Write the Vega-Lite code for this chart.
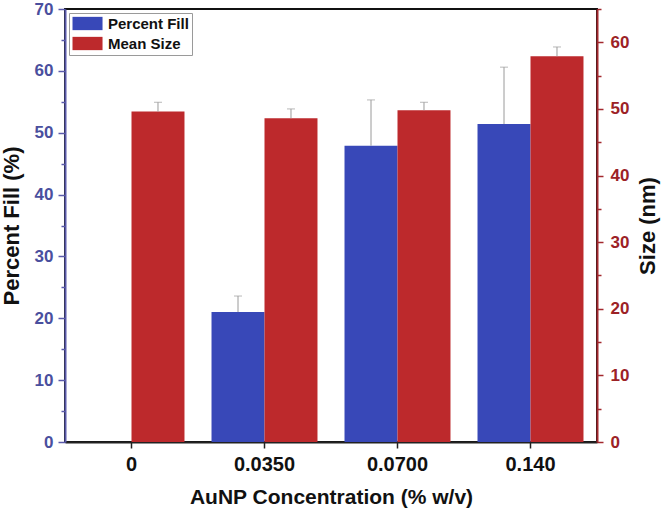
{
  "$schema": "https://vega.github.io/schema/vega-lite/v6.json",
  "width": 532,
  "height": 433,
  "autosize": {"type": "none"},
  "padding": {"left": 65, "top": 9, "right": 64, "bottom": 72},
  "background": "white",
  "config": {
    "font": "Liberation Sans",
    "view": {"stroke": "#111111", "strokeWidth": 2},
    "axis": {
      "labelFont": "Liberation Sans",
      "titleFont": "Liberation Sans",
      "labelFontWeight": "bold",
      "titleFontWeight": "bold",
      "titleColor": "#111111",
      "grid": false
    }
  },
  "data": {
    "values": [
      {"conc": "0", "series": "Percent Fill", "value": 0, "upper": null},
      {"conc": "0.0350", "series": "Percent Fill", "value": 21.0, "upper": 23.6},
      {"conc": "0.0700", "series": "Percent Fill", "value": 47.9, "upper": 55.3},
      {"conc": "0.140", "series": "Percent Fill", "value": 51.4, "upper": 60.6},
      {"conc": "0", "series": "Mean Size", "value": 49.6, "upper": 51.0},
      {"conc": "0.0350", "series": "Mean Size", "value": 48.6, "upper": 50.0},
      {"conc": "0.0700", "series": "Mean Size", "value": 49.8, "upper": 51.0},
      {"conc": "0.140", "series": "Mean Size", "value": 57.9, "upper": 59.3}
    ]
  },
  "encoding": {
    "x": {
      "field": "conc",
      "type": "nominal",
      "sort": ["0", "0.0350", "0.0700", "0.140"],
      "scale": {"paddingInner": 0, "paddingOuter": 0},
      "axis": {
        "title": "AuNP Concentration (% w/v)",
        "labelAngle": 0,
        "labelFontSize": 20,
        "labelColor": "#111111",
        "labelPadding": 6,
        "titleFontSize": 21,
        "titlePadding": 12,
        "domainColor": "#222222",
        "domainWidth": 2,
        "tickColor": "#222222",
        "tickWidth": 1.5,
        "tickSize": 6
      }
    },
    "xOffset": {
      "field": "series",
      "type": "nominal",
      "sort": ["Percent Fill", "Mean Size"],
      "scale": {"domain": ["Percent Fill", "Mean Size"], "paddingInner": 0, "paddingOuter": 0.255}
    }
  },
  "layer": [
    {
      "transform": [{"filter": "datum.series === 'Percent Fill'"}],
      "encoding": {
        "y": {
          "field": "value",
          "type": "quantitative",
          "scale": {"domain": [0, 70], "nice": false},
          "axis": {
            "orient": "left",
            "title": "Percent Fill (%)",
            "values": [0, 5, 10, 15, 20, 25, 30, 35, 40, 45, 50, 55, 60, 65, 70],
            "labelExpr": "datum.value % 10 === 0 ? datum.label : ''",
            "tickSize": {"condition": {"test": "datum.value % 10 === 0", "value": 7}, "value": 4},
            "labelFontSize": 17,
            "labelColor": "#4a4f9e",
            "labelPadding": 5,
            "titleFontSize": 22,
            "titlePadding": 11,
            "domainColor": "#5a5aaa",
            "domainWidth": 2,
            "tickColor": "#5a5aaa",
            "tickWidth": 1.5
          }
        }
      },
      "layer": [
        {
          "mark": {"type": "bar"},
          "encoding": {
            "color": {
              "field": "series",
              "type": "nominal",
              "scale": {"domain": ["Percent Fill", "Mean Size"], "range": ["#3848b8", "#bd292c"]},
              "legend": {
                "title": null,
                "orient": "top-left",
                "offset": 4,
                "padding": 3,
                "strokeColor": "#9a9a9a",
                "fillColor": "white",
                "symbolType": "M-1,-0.95H3.29V0.95H-1Z",
                "symbolSize": 196,
                "symbolStrokeWidth": 0,
                "symbolOpacity": 1,
                "labelFont": "Liberation Sans",
                "labelFontSize": 15,
                "labelFontWeight": "bold",
                "labelColor": "#111111",
                "labelOffset": 21,
                "rowPadding": 4
              }
            }
          }
        },
        {
          "transform": [{"filter": "datum.upper != null"}],
          "mark": {"type": "rule", "color": "#9a9a9a", "strokeWidth": 1},
          "encoding": {"y2": {"field": "upper"}}
        },
        {
          "transform": [{"filter": "datum.upper != null"}],
          "mark": {"type": "tick", "color": "#9a9a9a", "thickness": 1, "size": 8},
          "encoding": {"y": {"field": "upper", "type": "quantitative"}}
        }
      ]
    },
    {
      "transform": [{"filter": "datum.series === 'Mean Size'"}],
      "encoding": {
        "y": {
          "field": "value",
          "type": "quantitative",
          "scale": {"domain": [0, 65], "nice": false},
          "axis": {
            "orient": "right",
            "title": "Size (nm)",
            "titleAngle": 270,
            "titleBaseline": "top",
            "values": [0, 5, 10, 15, 20, 25, 30, 35, 40, 45, 50, 55, 60, 65],
            "labelExpr": "datum.value % 10 === 0 ? datum.label : ''",
            "tickSize": {"condition": {"test": "datum.value % 10 === 0", "value": 6}, "value": 4},
            "labelFontSize": 17,
            "labelColor": "#9c2226",
            "labelPadding": 7,
            "titleFontSize": 22,
            "titlePadding": 9,
            "domainColor": "#a3282e",
            "domainWidth": 2,
            "tickColor": "#a3282e",
            "tickWidth": 1.5
          }
        }
      },
      "layer": [
        {
          "mark": {"type": "bar"},
          "encoding": {
            "color": {"field": "series", "type": "nominal"}
          }
        },
        {
          "mark": {"type": "rule", "color": "#9a9a9a", "strokeWidth": 1},
          "encoding": {"y2": {"field": "upper"}}
        },
        {
          "mark": {"type": "tick", "color": "#9a9a9a", "thickness": 1, "size": 8},
          "encoding": {"y": {"field": "upper", "type": "quantitative"}}
        }
      ]
    }
  ],
  "resolve": {"scale": {"y": "independent"}, "axis": {"y": "independent"}}
}
